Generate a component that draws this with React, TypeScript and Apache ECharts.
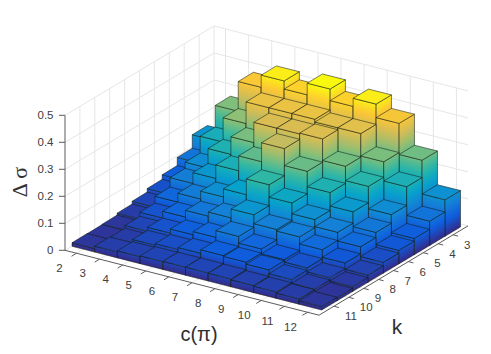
import React, { useEffect, useRef } from "react";
import * as echarts from "echarts";

const cTicks = [2, 3, 4, 5, 6, 7, 8, 9, 10, 11, 12];
const kTicks = [3, 4, 5, 6, 7, 8, 9, 10, 11];
const zTicks = [0, 0.1, 0.2, 0.3, 0.4, 0.5];

const rowK3 = [0.14, 0.27, 0.38, 0.425, 0.395, 0.438, 0.395, 0.425, 0.375, 0.26, 0.135];
const rowK4 = [0.09, 0.19, 0.28, 0.36, 0.36, 0.36, 0.35, 0.35, 0.267, 0.196, 0.09];
const rowK5 = [0.06, 0.128, 0.2, 0.265, 0.34, 0.34, 0.343, 0.263, 0.21, 0.127, 0.06];
const rowK6 = [0.043, 0.105, 0.145, 0.195, 0.25, 0.32, 0.257, 0.2, 0.15, 0.095, 0.05];
const rowK7 = [0.03, 0.07, 0.103, 0.132, 0.162, 0.22, 0.174, 0.134, 0.108, 0.076, 0.04];
const rowK8 = [0.02, 0.045, 0.07, 0.095, 0.11, 0.143, 0.11, 0.104, 0.078, 0.05, 0.027];
const rowK9 = [0.013, 0.03, 0.045, 0.06, 0.072, 0.097, 0.072, 0.054, 0.045, 0.03, 0.018];
const rowK10 = [0.012, 0.02, 0.034, 0.04, 0.047, 0.06, 0.057, 0.05, 0.036, 0.022, 0.012];
const rowK11 = [0.013, 0.022, 0.026, 0.029, 0.03, 0.03, 0.029, 0.026, 0.024, 0.02, 0.013];
const rows = [rowK3, rowK4, rowK5, rowK6, rowK7, rowK8, rowK9, rowK10, rowK11];

const palette = ["#352a87", "#0f5cdd", "#1481d6", "#06a4ca", "#2eb7a4", "#87bf77", "#d1bb59", "#fec832", "#f9fb0e"];
const zColorMax = 0.44;

const W = 491;
const H = 354;
const origin = [65, 250.3];
const U = [23.09, 5.9];
const V = [14.9, -8.93];
const zScale = 270;
const cRange = [1.5, 12.5];
const kRange = [2, 12];
const barLeft = [72, 246.3];
const barFront = [321.7, 310];
const barRight = [460.5, 227];
const barBack = [207.3, 163.3];

function P(c: number, k: number, z: number) {
  const a = c - cRange[0];
  const b = kRange[1] - k;
  return [origin[0] + a * U[0] + b * V[0], origin[1] + a * U[1] + b * V[1] - z * zScale];
}
function B(c: number, k: number, z: number) {
  const s = (c - 1.5) / 11;
  const t = (11.5 - k) / 9;
  const mix = (i: number) =>
    (1 - s) * (1 - t) * barLeft[i] + s * (1 - t) * barFront[i] + s * t * barRight[i] + (1 - s) * t * barBack[i];
  return [mix(0), mix(1) - z * zScale];
}
function hex(s: string) {
  return [1, 3, 5].map((i) => parseInt(s.slice(i, i + 2), 16));
}
function colorAt(z: number) {
  const t = Math.max(0, Math.min(1, z / zColorMax)) * (palette.length - 1);
  const i = Math.min(palette.length - 2, Math.floor(t));
  const f = t - i;
  const a = hex(palette[i]);
  const b = hex(palette[i + 1]);
  const m = a.map((v, j) => Math.round(v + (b[j] - v) * f));
  return `rgb(${m[0]},${m[1]},${m[2]})`;
}
function sideFill(a: number[], top: number[], z: number, dir: number[]) {
  const len = Math.hypot(dir[0], dir[1]);
  const n = [-dir[1] / len, dir[0] / len];
  const d = [top[0] - a[0], top[1] - a[1]];
  const s = d[0] * n[0] + d[1] * n[1];
  const stops = [];
  const N = 10;
  for (let i = 0; i <= N; i++) stops.push({ offset: i / N, color: colorAt((z * i) / N) });
  return new echarts.graphic.LinearGradient(a[0], a[1], a[0] + n[0] * s, a[1] + n[1] * s, stops, true);
}

const barData: number[][] = [];
kTicks.forEach((k, r) => cTicks.forEach((c, i) => barData.push([c, k, rows[r][i]])));

const GRID = "#e6e6e6";
const AXIS = "#5c5c5c";
const TXT = "#404040";
const FONT = '"Liberation Sans", Arial, sans-serif';

function line(api: any, p: number[], q: number[], stroke: string, lw = 1) {
  const a = api.coord(p);
  const b = api.coord(q);
  return { type: "line", shape: { x1: a[0], y1: a[1], x2: b[0], y2: b[1] }, style: { stroke, lineWidth: lw } };
}
function label(api: any, p: number[], text: string, dx: number, dy: number, align: string) {
  const a = api.coord(p);
  return {
    type: "text",
    style: { text, x: a[0] + dx, y: a[1] + dy, fill: TXT, font: `11.5px ${FONT}`, align, verticalAlign: "middle" },
  };
}

function renderWalls(_: any, api: any) {
  const ch: any[] = [];
  const [c0, c1] = cRange;
  const [k0, k1] = kRange;
  kTicks.forEach((k) => {
    ch.push(line(api, P(c0, k, 0), P(c0, k, 0.5), GRID));
    ch.push(line(api, P(c0, k, 0), P(c1, k, 0), GRID));
  });
  cTicks.forEach((c) => {
    ch.push(line(api, P(c, k0, 0), P(c, k0, 0.5), GRID));
    ch.push(line(api, P(c, k0, 0), P(c, k1, 0), GRID));
  });
  zTicks.forEach((z) => {
    ch.push(line(api, P(c0, k1, z), P(c0, k0, z), GRID));
    ch.push(line(api, P(c0, k0, z), P(c1, k0, z), GRID));
  });
  ch.push(line(api, P(c0, k0, 0), P(c0, k0, 0.5), GRID));
  return { type: "group", children: ch };
}

function renderBar(_: any, api: any) {
  const c = api.value(0);
  const k = api.value(1);
  const z = api.value(2);
  const x0 = c - 0.5;
  const x1 = c + 0.5;
  const y0 = k - 0.5;
  const y1 = k + 0.5;
  const pts = (list: number[][]) => list.map((p) => api.coord(p));
  const edge = { stroke: "rgba(20,30,20,0.78)", lineWidth: 0.7 };
  const A = B(x0, y1, 0);
  const Bb = B(x1, y1, 0);
  const Cc = B(x1, y0, 0);
  const At = B(x0, y1, z);
  const Bt = B(x1, y1, z);
  const Ct = B(x1, y0, z);
  const Dt = B(x0, y0, z);
  const fillFront = sideFill(api.coord(A), api.coord(At), z, [U[0], U[1]]);
  const fillRight = sideFill(api.coord(Bb), api.coord(Bt), z, [V[0], V[1]]);
  return {
    type: "group",
    children: [
      { type: "polygon", shape: { points: pts([A, Bb, Bt, At]) }, style: { fill: fillFront, ...edge } },
      { type: "polygon", shape: { points: pts([Bb, Cc, Ct, Bt]) }, style: { fill: fillRight, ...edge } },
      { type: "polygon", shape: { points: pts([At, Bt, Ct, Dt]) }, style: { fill: colorAt(z), ...edge } },
    ],
  };
}

function renderAxes(_: any, api: any) {
  const ch: any[] = [];
  const [c0, c1] = cRange;
  const [k0, k1] = kRange;
  ch.push(line(api, P(c0, k1, 0), P(c0, k1, 0.5), AXIS));
  ch.push(line(api, P(c0, k1, 0), P(c1, k1, 0), AXIS));
  ch.push(line(api, P(c1, k1, 0), P(c1, k0, 0), AXIS));
  zTicks.forEach((z) => {
    const p = P(c0, k1, z);
    ch.push(line(api, p, [p[0] - 6, p[1]], AXIS));
    ch.push(label(api, p, String(z), -11.5, -0.5, "right"));
  });
  cTicks.forEach((c) => {
    const p = P(c, k1, 0);
    ch.push(line(api, p, [p[0] - 5, p[1] + 3], AXIS));
    ch.push(label(api, p, String(c), -17, 14.3, "center"));
  });
  kTicks.forEach((k) => {
    const p = P(c1, k, 0);
    ch.push(line(api, p, [p[0] + 5, p[1] + 1.3], AXIS));
    ch.push(label(api, p, String(k), 11, 10, "left"));
  });
  return { type: "group", children: ch };
}

export default function App() {
  const ref = useRef<HTMLDivElement>(null);
  useEffect(() => {
    const chart = echarts.init(ref.current!, undefined, { renderer: "svg" });
    const axisBase = { type: "value", show: false, scale: true };
    chart.setOption({
      animation: false,
      backgroundColor: "#ffffff",
      grid: { left: 0, right: 0, top: 0, bottom: 0 },
      xAxis: { ...axisBase, min: 0, max: W },
      yAxis: { ...axisBase, min: 0, max: H, inverse: true },
      series: [
        { type: "custom", name: "walls", silent: true, data: [[0, 0]], renderItem: renderWalls, z: 1 },
        { type: "custom", name: "axes", silent: true, data: [[0, 0]], renderItem: renderAxes, z: 2 },
        { type: "custom", name: "bars", silent: true, data: barData, renderItem: renderBar, z: 3, dimensions: ["c", "k", "z"] },
      ],
      graphic: [
        { type: "text", x: 199, y: 334, style: { text: "c(π)", font: `20px ${FONT}`, fill: "#303030", align: "center", verticalAlign: "middle" } },
        { type: "text", x: 397, y: 326, style: { text: "k", font: `21px ${FONT}`, fill: "#303030", align: "center", verticalAlign: "middle" } },
        { type: "text", x: 19, y: 182, rotation: Math.PI / 2, style: { text: "Δ σ", font: '22px "Liberation Serif", serif', fill: "#303030", align: "center", verticalAlign: "middle" } },
      ],
    });
    return () => chart.dispose();
  }, []);
  return <div ref={ref} style={{ position: "fixed", left: 0, top: 0, width: W, height: H }} />;
}
